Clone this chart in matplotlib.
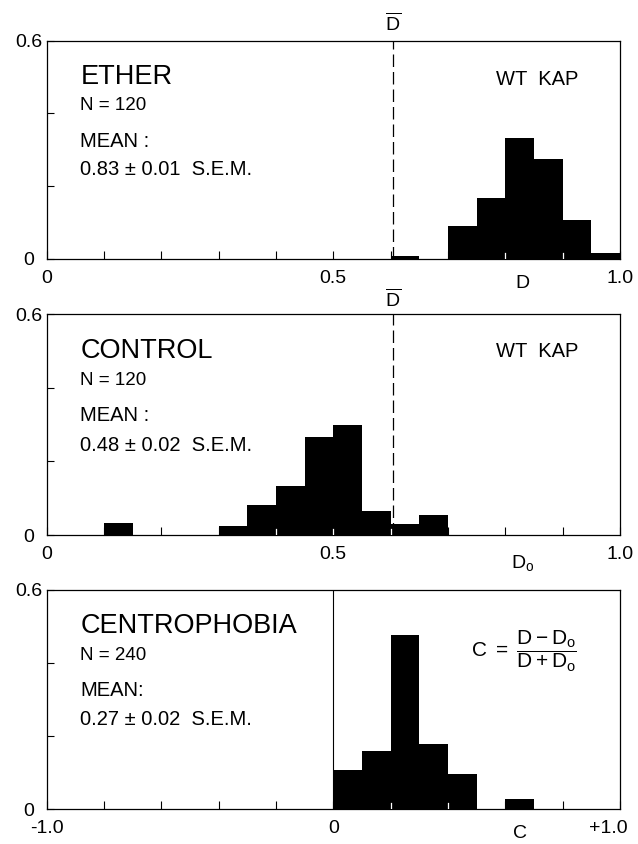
import numpy as np
from matplotlib import pyplot as plt
from matplotlib.transforms import ScaledTranslation

plt.rcParams['font.family'] = ['Liberation Sans', 'DejaVu Sans']
plt.rcParams['mathtext.fontset'] = 'custom'
plt.rcParams['mathtext.rm'] = 'Liberation Sans'
plt.rcParams['mathtext.it'] = 'Liberation Sans'
plt.rcParams['mathtext.sf'] = 'Liberation Sans'

# ETHER, WT KAP : fraction of animals per D bin (bin width 0.05)
ether_left = [0.60, 0.65, 0.70, 0.75, 0.80, 0.85, 0.90, 0.95]
ether_freq = [0.008, 0.0, 0.092, 0.167, 0.333, 0.275, 0.108, 0.017]

# CONTROL, WT KAP : fraction per Do bin (bin width 0.05)
control_left = [0.10, 0.15, 0.20, 0.25, 0.30, 0.35, 0.40, 0.45, 0.50, 0.55, 0.60, 0.65]
control_freq = [0.032, 0.0, 0.0, 0.0, 0.025, 0.082, 0.132, 0.266, 0.298, 0.066, 0.030, 0.055]

# CENTROPHOBIA : fraction per C bin (bin width 0.1)
centro_left = [0.0, 0.1, 0.2, 0.3, 0.4, 0.5, 0.6]
centro_freq = [0.107, 0.160, 0.477, 0.178, 0.095, 0.0, 0.027]

d_bar = 0.605

texts = {
    'ether': ['ETHER', 'N = 120', 'MEAN :', '0.83 \u00b1 0.01  S.E.M.'],
    'control': ['CONTROL', 'N = 120', 'MEAN :', '0.48 \u00b1 0.02  S.E.M.'],
    'centro': ['CENTROPHOBIA', 'N = 240', 'MEAN:', '0.27 \u00b1 0.02  S.E.M.'],
}

W, H = 638, 844
fig = plt.figure(figsize=(W / 100, H / 100), dpi=100)

def add_ax(top, bottom):
    return fig.add_axes([46.5 / W, 1 - bottom / H, 573.5 / W, (bottom - top) / H])

def height_at(x, lefts, freqs, width):
    for l, f in zip(lefts, freqs):
        if l < x < l + width:
            return f
    return 0.0

def draw_panel(ax, lefts, freqs, width, xlim, xticks, xlabels, txt):
    ax.bar(lefts, freqs, width=width, align='edge', color='black', linewidth=0)
    ax.set_xlim(*xlim)
    ax.set_ylim(0, 0.6)
    ax.set_xticks(xticks)
    ax.set_xticklabels(xlabels, fontsize=14)
    ax.set_yticks([0, 0.2, 0.4, 0.6])
    ax.set_yticklabels(['0', '', '', '0.6'], fontsize=14, ha='center')
    ax.tick_params(axis='x', direction='in', length=6, width=0.8, pad=8)
    ax.tick_params(axis='y', direction='in', length=5, width=0.8, pad=13)
    for s in ax.spines.values():
        s.set_linewidth(0.9)
    # ticks showing white where they fall inside the black bars
    tl = 6 / (218 / 0.6)
    for t in xticks[1:-1]:
        hl = height_at(t - 1e-6, lefts, freqs, width)
        hr = height_at(t + 1e-6, lefts, freqs, width)
        if min(hl, hr) > tl:
            ax.plot([t, t], [0, tl], color='white', lw=0.9, zorder=3)
    ax.text(0.059, 0.835, txt[0], transform=ax.transAxes, fontsize=19.5, va='center')
    ax.text(0.059, 0.702, txt[1], transform=ax.transAxes, fontsize=13.5, va='center')
    ax.text(0.059, 0.54, txt[2], transform=ax.transAxes, fontsize=14.5, va='center')
    ax.text(0.059, 0.408, txt[3], transform=ax.transAxes, fontsize=14.5, va='center')

# --- ETHER
ax1 = add_ax(40.7, 259)
ticks01 = list(np.round(np.arange(0, 1.01, 0.1), 1))
labels01 = ['0', '', '', '', '', '0.5', '', '', '', '', '1.0']
draw_panel(ax1, ether_left, ether_freq, 0.05, (0, 1), ticks01, labels01, texts['ether'])
ax1.axvline(d_bar, color='black', lw=0.9, ls=(0, (10, 4)))
ax1.text(0.927, 0.82, 'WT  KAP', transform=ax1.transAxes, fontsize=14.5, ha='right', va='center')
ax1.text(d_bar, 1.08, r'$\overline{\mathrm{D}}$', transform=ax1.get_xaxis_transform(),
         fontsize=14, ha='center', va='center')
ax1.text(0.83, -0.112, 'D', transform=ax1.transAxes, fontsize=14, ha='center', va='center')

# --- CONTROL
ax2 = add_ax(314.5, 535)
draw_panel(ax2, control_left, control_freq, 0.05, (0, 1), ticks01, labels01, texts['control'])
ax2.axvline(d_bar, color='black', lw=0.9, ls=(0, (10, 4)))
ax2.text(0.927, 0.83, 'WT  KAP', transform=ax2.transAxes, fontsize=14.5, ha='right', va='center')
ax2.text(d_bar, 1.07, r'$\overline{\mathrm{D}}$', transform=ax2.get_xaxis_transform(),
         fontsize=14, ha='center', va='center')
ax2.text(0.83, -0.125, r'$\mathrm{D_o}$', transform=ax2.transAxes, fontsize=14, ha='center', va='center')

# --- CENTROPHOBIA
ax3 = add_ax(590, 809)
ticks11 = list(np.round(np.arange(-1, 1.01, 0.2), 1))
labels11 = ['-1.0', '', '', '', '', '0', '', '', '', '', '+1.0']
draw_panel(ax3, centro_left, centro_freq, 0.1, (-1, 1), ticks11, labels11, texts['centro'])
ax3.axvline(0, color='black', lw=0.8)
ax3.text(0.74, 0.72, r'$\mathrm{C\ =\ }\dfrac{\mathrm{D - D_o}}{\mathrm{D + D_o}}$',
         transform=ax3.transAxes, fontsize=15, ha='left', va='center')
ax3.text(0.826, -0.11, 'C', transform=ax3.transAxes, fontsize=14, ha='center', va='center')

# "+1.0" sits a little left of the axis end
last = ax3.get_xticklabels()[-1]
last.set_horizontalalignment('right')
last.set_transform(last.get_transform() + ScaledTranslation(8 / 100, 0, fig.dpi_scale_trans))

fig.savefig('out.png', dpi=100)
